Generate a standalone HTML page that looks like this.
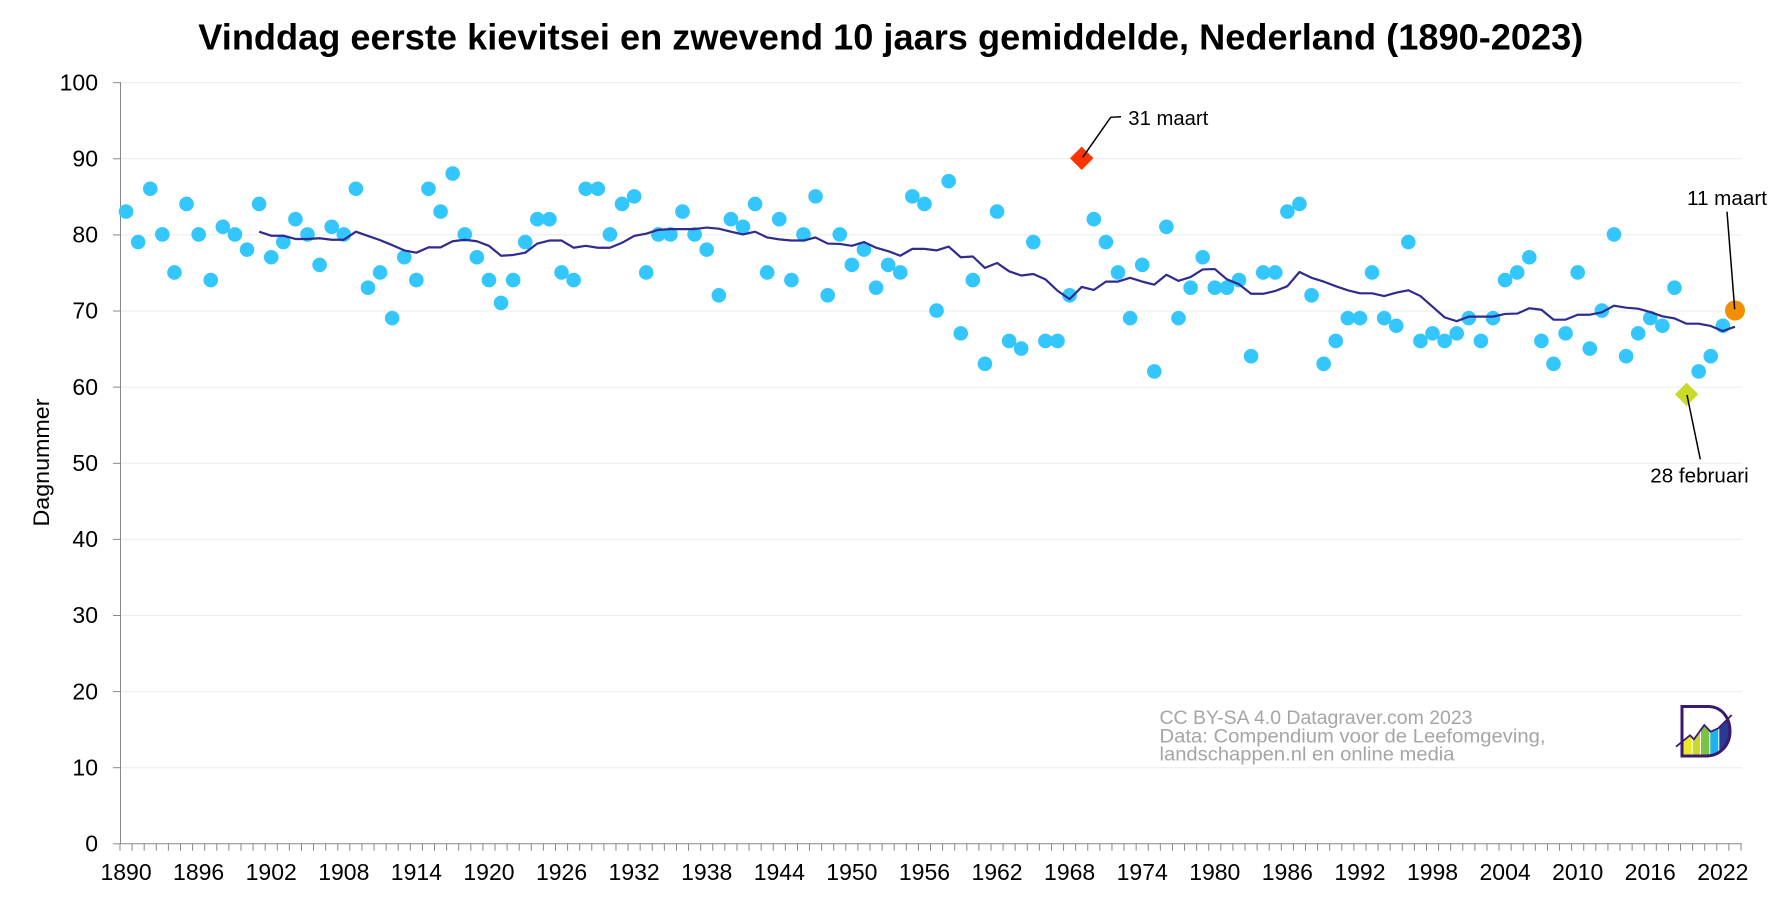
<!DOCTYPE html>
<html>
<head>
<meta charset="utf-8">
<style>
html,body{margin:0;padding:0;background:#fff;width:1784px;height:898px;overflow:hidden}
svg{display:block}
</style>
</head>
<body>
<svg width="1784" height="898" viewBox="0 0 1784 898" xmlns="http://www.w3.org/2000/svg" font-family="'Liberation Sans', Arial, sans-serif">
<rect width="1784" height="898" fill="#fff"/>

<!-- gridlines -->
<g stroke="#ebebeb" stroke-width="1">
<line x1="121" y1="82.7" x2="1741.5" y2="82.7"/>
<line x1="121" y1="158.8" x2="1741.5" y2="158.8"/>
<line x1="121" y1="234.9" x2="1741.5" y2="234.9"/>
<line x1="121" y1="311" x2="1741.5" y2="311"/>
<line x1="121" y1="387.1" x2="1741.5" y2="387.1"/>
<line x1="121" y1="463.3" x2="1741.5" y2="463.3"/>
<line x1="121" y1="539.4" x2="1741.5" y2="539.4"/>
<line x1="121" y1="615.5" x2="1741.5" y2="615.5"/>
<line x1="121" y1="691.6" x2="1741.5" y2="691.6"/>
<line x1="121" y1="767.7" x2="1741.5" y2="767.7"/>
</g>

<!-- axes -->
<g stroke="#888" fill="none">
<line x1="120.5" y1="82" x2="120.5" y2="844" stroke-width="1"/>
<line x1="120" y1="843.8" x2="1742" y2="843.8" stroke-width="1"/>
</g>
<!-- y ticks -->
<g stroke="#888" stroke-width="1">
<line x1="113" y1="82.7" x2="120" y2="82.7"/>
<line x1="113" y1="158.8" x2="120" y2="158.8"/>
<line x1="113" y1="234.9" x2="120" y2="234.9"/>
<line x1="113" y1="311" x2="120" y2="311"/>
<line x1="113" y1="387.1" x2="120" y2="387.1"/>
<line x1="113" y1="463.3" x2="120" y2="463.3"/>
<line x1="113" y1="539.4" x2="120" y2="539.4"/>
<line x1="113" y1="615.5" x2="120" y2="615.5"/>
<line x1="113" y1="691.6" x2="120" y2="691.6"/>
<line x1="113" y1="767.7" x2="120" y2="767.7"/>
<line x1="113" y1="843.8" x2="120" y2="843.8"/>
</g>
<!-- x ticks -->
<line x1="119.5" y1="847.3" x2="1742" y2="847.3" stroke="#888" stroke-width="7" stroke-dasharray="1 11.097"/>

<!-- dots -->
<g transform="matrix(12.097 0 0 -7.611 126.05 843.3)" fill="#34c6ff">
<ellipse cx="0" cy="83" rx=".6035" ry=".9591"/>
<ellipse cx="1" cy="79" rx=".6035" ry=".9591"/>
<ellipse cx="2" cy="86" rx=".6035" ry=".9591"/>
<ellipse cx="3" cy="80" rx=".6035" ry=".9591"/>
<ellipse cx="4" cy="75" rx=".6035" ry=".9591"/>
<ellipse cx="5" cy="84" rx=".6035" ry=".9591"/>
<ellipse cx="6" cy="80" rx=".6035" ry=".9591"/>
<ellipse cx="7" cy="74" rx=".6035" ry=".9591"/>
<ellipse cx="8" cy="81" rx=".6035" ry=".9591"/>
<ellipse cx="9" cy="80" rx=".6035" ry=".9591"/>
<ellipse cx="10" cy="78" rx=".6035" ry=".9591"/>
<ellipse cx="11" cy="84" rx=".6035" ry=".9591"/>
<ellipse cx="12" cy="77" rx=".6035" ry=".9591"/>
<ellipse cx="13" cy="79" rx=".6035" ry=".9591"/>
<ellipse cx="14" cy="82" rx=".6035" ry=".9591"/>
<ellipse cx="15" cy="80" rx=".6035" ry=".9591"/>
<ellipse cx="16" cy="76" rx=".6035" ry=".9591"/>
<ellipse cx="17" cy="81" rx=".6035" ry=".9591"/>
<ellipse cx="18" cy="80" rx=".6035" ry=".9591"/>
<ellipse cx="19" cy="86" rx=".6035" ry=".9591"/>
<ellipse cx="20" cy="73" rx=".6035" ry=".9591"/>
<ellipse cx="21" cy="75" rx=".6035" ry=".9591"/>
<ellipse cx="22" cy="69" rx=".6035" ry=".9591"/>
<ellipse cx="23" cy="77" rx=".6035" ry=".9591"/>
<ellipse cx="24" cy="74" rx=".6035" ry=".9591"/>
<ellipse cx="25" cy="86" rx=".6035" ry=".9591"/>
<ellipse cx="26" cy="83" rx=".6035" ry=".9591"/>
<ellipse cx="27" cy="88" rx=".6035" ry=".9591"/>
<ellipse cx="28" cy="80" rx=".6035" ry=".9591"/>
<ellipse cx="29" cy="77" rx=".6035" ry=".9591"/>
<ellipse cx="30" cy="74" rx=".6035" ry=".9591"/>
<ellipse cx="31" cy="71" rx=".6035" ry=".9591"/>
<ellipse cx="32" cy="74" rx=".6035" ry=".9591"/>
<ellipse cx="33" cy="79" rx=".6035" ry=".9591"/>
<ellipse cx="34" cy="82" rx=".6035" ry=".9591"/>
<ellipse cx="35" cy="82" rx=".6035" ry=".9591"/>
<ellipse cx="36" cy="75" rx=".6035" ry=".9591"/>
<ellipse cx="37" cy="74" rx=".6035" ry=".9591"/>
<ellipse cx="38" cy="86" rx=".6035" ry=".9591"/>
<ellipse cx="39" cy="86" rx=".6035" ry=".9591"/>
<ellipse cx="40" cy="80" rx=".6035" ry=".9591"/>
<ellipse cx="41" cy="84" rx=".6035" ry=".9591"/>
<ellipse cx="42" cy="85" rx=".6035" ry=".9591"/>
<ellipse cx="43" cy="75" rx=".6035" ry=".9591"/>
<ellipse cx="44" cy="80" rx=".6035" ry=".9591"/>
<ellipse cx="45" cy="80" rx=".6035" ry=".9591"/>
<ellipse cx="46" cy="83" rx=".6035" ry=".9591"/>
<ellipse cx="47" cy="80" rx=".6035" ry=".9591"/>
<ellipse cx="48" cy="78" rx=".6035" ry=".9591"/>
<ellipse cx="49" cy="72" rx=".6035" ry=".9591"/>
<ellipse cx="50" cy="82" rx=".6035" ry=".9591"/>
<ellipse cx="51" cy="81" rx=".6035" ry=".9591"/>
<ellipse cx="52" cy="84" rx=".6035" ry=".9591"/>
<ellipse cx="53" cy="75" rx=".6035" ry=".9591"/>
<ellipse cx="54" cy="82" rx=".6035" ry=".9591"/>
<ellipse cx="55" cy="74" rx=".6035" ry=".9591"/>
<ellipse cx="56" cy="80" rx=".6035" ry=".9591"/>
<ellipse cx="57" cy="85" rx=".6035" ry=".9591"/>
<ellipse cx="58" cy="72" rx=".6035" ry=".9591"/>
<ellipse cx="59" cy="80" rx=".6035" ry=".9591"/>
<ellipse cx="60" cy="76" rx=".6035" ry=".9591"/>
<ellipse cx="61" cy="78" rx=".6035" ry=".9591"/>
<ellipse cx="62" cy="73" rx=".6035" ry=".9591"/>
<ellipse cx="63" cy="76" rx=".6035" ry=".9591"/>
<ellipse cx="64" cy="75" rx=".6035" ry=".9591"/>
<ellipse cx="65" cy="85" rx=".6035" ry=".9591"/>
<ellipse cx="66" cy="84" rx=".6035" ry=".9591"/>
<ellipse cx="67" cy="70" rx=".6035" ry=".9591"/>
<ellipse cx="68" cy="87" rx=".6035" ry=".9591"/>
<ellipse cx="69" cy="67" rx=".6035" ry=".9591"/>
<ellipse cx="70" cy="74" rx=".6035" ry=".9591"/>
<ellipse cx="71" cy="63" rx=".6035" ry=".9591"/>
<ellipse cx="72" cy="83" rx=".6035" ry=".9591"/>
<ellipse cx="73" cy="66" rx=".6035" ry=".9591"/>
<ellipse cx="74" cy="65" rx=".6035" ry=".9591"/>
<ellipse cx="75" cy="79" rx=".6035" ry=".9591"/>
<ellipse cx="76" cy="66" rx=".6035" ry=".9591"/>
<ellipse cx="77" cy="66" rx=".6035" ry=".9591"/>
<ellipse cx="78" cy="72" rx=".6035" ry=".9591"/>
<ellipse cx="80" cy="82" rx=".6035" ry=".9591"/>
<ellipse cx="81" cy="79" rx=".6035" ry=".9591"/>
<ellipse cx="82" cy="75" rx=".6035" ry=".9591"/>
<ellipse cx="83" cy="69" rx=".6035" ry=".9591"/>
<ellipse cx="84" cy="76" rx=".6035" ry=".9591"/>
<ellipse cx="85" cy="62" rx=".6035" ry=".9591"/>
<ellipse cx="86" cy="81" rx=".6035" ry=".9591"/>
<ellipse cx="87" cy="69" rx=".6035" ry=".9591"/>
<ellipse cx="88" cy="73" rx=".6035" ry=".9591"/>
<ellipse cx="89" cy="77" rx=".6035" ry=".9591"/>
<ellipse cx="90" cy="73" rx=".6035" ry=".9591"/>
<ellipse cx="91" cy="73" rx=".6035" ry=".9591"/>
<ellipse cx="92" cy="74" rx=".6035" ry=".9591"/>
<ellipse cx="93" cy="64" rx=".6035" ry=".9591"/>
<ellipse cx="94" cy="75" rx=".6035" ry=".9591"/>
<ellipse cx="95" cy="75" rx=".6035" ry=".9591"/>
<ellipse cx="96" cy="83" rx=".6035" ry=".9591"/>
<ellipse cx="97" cy="84" rx=".6035" ry=".9591"/>
<ellipse cx="98" cy="72" rx=".6035" ry=".9591"/>
<ellipse cx="99" cy="63" rx=".6035" ry=".9591"/>
<ellipse cx="100" cy="66" rx=".6035" ry=".9591"/>
<ellipse cx="101" cy="69" rx=".6035" ry=".9591"/>
<ellipse cx="102" cy="69" rx=".6035" ry=".9591"/>
<ellipse cx="103" cy="75" rx=".6035" ry=".9591"/>
<ellipse cx="104" cy="69" rx=".6035" ry=".9591"/>
<ellipse cx="105" cy="68" rx=".6035" ry=".9591"/>
<ellipse cx="106" cy="79" rx=".6035" ry=".9591"/>
<ellipse cx="107" cy="66" rx=".6035" ry=".9591"/>
<ellipse cx="108" cy="67" rx=".6035" ry=".9591"/>
<ellipse cx="109" cy="66" rx=".6035" ry=".9591"/>
<ellipse cx="110" cy="67" rx=".6035" ry=".9591"/>
<ellipse cx="111" cy="69" rx=".6035" ry=".9591"/>
<ellipse cx="112" cy="66" rx=".6035" ry=".9591"/>
<ellipse cx="113" cy="69" rx=".6035" ry=".9591"/>
<ellipse cx="114" cy="74" rx=".6035" ry=".9591"/>
<ellipse cx="115" cy="75" rx=".6035" ry=".9591"/>
<ellipse cx="116" cy="77" rx=".6035" ry=".9591"/>
<ellipse cx="117" cy="66" rx=".6035" ry=".9591"/>
<ellipse cx="118" cy="63" rx=".6035" ry=".9591"/>
<ellipse cx="119" cy="67" rx=".6035" ry=".9591"/>
<ellipse cx="120" cy="75" rx=".6035" ry=".9591"/>
<ellipse cx="121" cy="65" rx=".6035" ry=".9591"/>
<ellipse cx="122" cy="70" rx=".6035" ry=".9591"/>
<ellipse cx="123" cy="80" rx=".6035" ry=".9591"/>
<ellipse cx="124" cy="64" rx=".6035" ry=".9591"/>
<ellipse cx="125" cy="67" rx=".6035" ry=".9591"/>
<ellipse cx="126" cy="69" rx=".6035" ry=".9591"/>
<ellipse cx="127" cy="68" rx=".6035" ry=".9591"/>
<ellipse cx="128" cy="73" rx=".6035" ry=".9591"/>
<ellipse cx="130" cy="62" rx=".6035" ry=".9591"/>
<ellipse cx="131" cy="64" rx=".6035" ry=".9591"/>
<ellipse cx="132" cy="68" rx=".6035" ry=".9591"/>
<polyline fill="none" stroke="#2f2b8f" stroke-width="2.2" stroke-linejoin="round" vector-effect="non-scaling-stroke" points="11,80.36 12,79.83 13,79.83 14,79.4 15,79.4 16,79.5 17,79.3 18,79.3 19,80.36 20,79.8 21,79.25 22,78.6 23,77.9 24,77.6 25,78.3 26,78.3 27,79.1 28,79.3 29,79.1 30,78.5 31,77.2 32,77.3 33,77.6 34,78.8 35,79.2 36,79.2 37,78.25 38,78.5 39,78.25 40,78.25 41,78.9 42,79.8 43,80.1 44,80.6 45,80.7 46,80.7 47,80.7 48,80.9 49,80.75 50,80.36 51,80 52,80.36 53,79.6 54,79.35 55,79.2 56,79.2 57,79.6 58,78.8 59,78.75 60,78.5 61,79 62,78.25 63,77.8 64,77.2 65,78.1 66,78.1 67,77.9 68,78.4 69,77 70,77.1 71,75.6 72,76.25 73,75.15 74,74.6 75,74.8 76,74.1 77,72.6 78,71.5 79,73.1 80,72.7 81,73.8 82,73.8 83,74.3 84,73.8 85,73.4 86,74.7 87,73.9 88,74.4 89,75.4 90,75.45 91,74.1 92,73.45 93,72.2 94,72.2 95,72.57 96,73.2 97,75.06 98,74.3 99,73.8 100,73.2 101,72.66 102,72.26 103,72.26 104,71.9 105,72.35 106,72.66 107,71.9 108,70.5 109,69.1 110,68.6 111,69.2 112,69.2 113,69.2 114,69.55 115,69.6 116,70.3 117,70.1 118,68.8 119,68.8 120,69.45 121,69.45 122,69.77 123,70.64 124,70.37 125,70.24 126,69.8 127,69.24 128,68.97 129,68.27 130,68.27 131,67.97 132,67.3 133,67.88"/>
</g>

<!-- special markers -->
<polygon points="1081.7,146.6 1093.4,158.3 1081.7,170 1070,158.3" fill="#ff3300"/>
<polygon points="1686.6,382.6 1698.3,394.3 1686.6,406 1674.9,394.3" fill="#c9da2b"/>
<circle cx="1735" cy="310.5" r="10" fill="#f28f00"/>

<!-- leader lines -->
<g stroke="#000" stroke-width="1.5" fill="none">
<polyline points="1082.7,157.3 1110.7,117.3 1121,116.7"/>
<line x1="1727" y1="211.7" x2="1734.7" y2="309.3"/>
<line x1="1687" y1="395" x2="1700.3" y2="459.3"/>
</g>

<!-- annotations -->
<g font-size="20.5" fill="#000">
<text x="1128.3" y="125" textLength="80" lengthAdjust="spacingAndGlyphs">31 maart</text>
<text x="1687" y="205" textLength="80" lengthAdjust="spacingAndGlyphs">11 maart</text>
<text x="1650.3" y="482.7" textLength="98.4" lengthAdjust="spacingAndGlyphs">28 februari</text>
</g>

<!-- watermark -->
<g font-size="19" fill="#a5a5a5">
<text x="1159.5" y="724" textLength="313" lengthAdjust="spacingAndGlyphs">CC BY-SA 4.0 Datagraver.com 2023</text>
<text x="1159.5" y="742.7" textLength="386" lengthAdjust="spacingAndGlyphs">Data: Compendium voor de Leefomgeving,</text>
<text x="1159.5" y="760.5" textLength="295" lengthAdjust="spacingAndGlyphs">landschappen.nl en online media</text>
</g>

<!-- logo -->
<defs>
<clipPath id="dclip"><path d="M1682,706.5 H1708 C1722,706.5 1730,718 1730,731.5 C1730,745 1720,756 1706,756 H1682 Z"/></clipPath>
<clipPath id="zclip"><polygon points="1676,746.7 1690,735.3 1694,739.3 1704.3,725 1710.7,731.7 1718.3,728.3 1731.7,715 1745,715 1745,765 1676,765"/></clipPath>
</defs>
<g clip-path="url(#dclip)">
<g clip-path="url(#zclip)">
<rect x="1682" y="700" width="9.7" height="60" fill="#eee82a"/>
<rect x="1692.7" y="700" width="7.3" height="60" fill="#c8d92a"/>
<rect x="1701" y="700" width="8.3" height="60" fill="#7cc243"/>
<rect x="1710.3" y="700" width="8" height="60" fill="#1db4ee"/>
<rect x="1719.3" y="700" width="14" height="60" fill="#2b3990"/>
</g>
</g>
<path d="M1682,706.5 H1708 C1722,706.5 1730,718 1730,731.5 C1730,745 1720,756 1706,756 H1682 Z" fill="none" stroke="#3a1a6e" stroke-width="3"/>
<polyline points="1676,746.7 1690,735.3 1694,739.3 1704.3,725 1710.7,731.7 1718.3,728.3 1731.7,715" fill="none" stroke="#3a1a6e" stroke-width="1.8"/>

<!-- title -->
<text x="198.3" y="49.3" font-size="36" font-weight="bold" fill="#000" textLength="1385" lengthAdjust="spacingAndGlyphs">Vinddag eerste kievitsei en zwevend 10 jaars gemiddelde, Nederland (1890-2023)</text>

<!-- y axis title -->
<text transform="translate(49,462.5) rotate(-90)" text-anchor="middle" font-size="22.5" fill="#000" textLength="128" lengthAdjust="spacingAndGlyphs">Dagnummer</text>

<!-- y labels -->
<g font-size="23" fill="#000" text-anchor="end">
<text x="98" y="90.4">100</text>
<text x="98" y="166.5">90</text>
<text x="98" y="242.6">80</text>
<text x="98" y="318.7">70</text>
<text x="98" y="394.8">60</text>
<text x="98" y="471">50</text>
<text x="98" y="547.1">40</text>
<text x="98" y="623.2">30</text>
<text x="98" y="699.3">20</text>
<text x="98" y="775.4">10</text>
<text x="98" y="851.5">0</text>
</g>

<!-- x labels -->
<g font-size="23" fill="#000" text-anchor="middle">
<text x="126.05" y="880">1890</text>
<text x="198.63" y="880">1896</text>
<text x="271.21" y="880">1902</text>
<text x="343.8" y="880">1908</text>
<text x="416.38" y="880">1914</text>
<text x="488.96" y="880">1920</text>
<text x="561.54" y="880">1926</text>
<text x="634.12" y="880">1932</text>
<text x="706.71" y="880">1938</text>
<text x="779.29" y="880">1944</text>
<text x="851.87" y="880">1950</text>
<text x="924.45" y="880">1956</text>
<text x="997.03" y="880">1962</text>
<text x="1069.62" y="880">1968</text>
<text x="1142.2" y="880">1974</text>
<text x="1214.78" y="880">1980</text>
<text x="1287.36" y="880">1986</text>
<text x="1359.94" y="880">1992</text>
<text x="1432.53" y="880">1998</text>
<text x="1505.11" y="880">2004</text>
<text x="1577.69" y="880">2010</text>
<text x="1650.27" y="880">2016</text>
<text x="1722.85" y="880">2022</text>
</g>
</svg>
</body>
</html>
